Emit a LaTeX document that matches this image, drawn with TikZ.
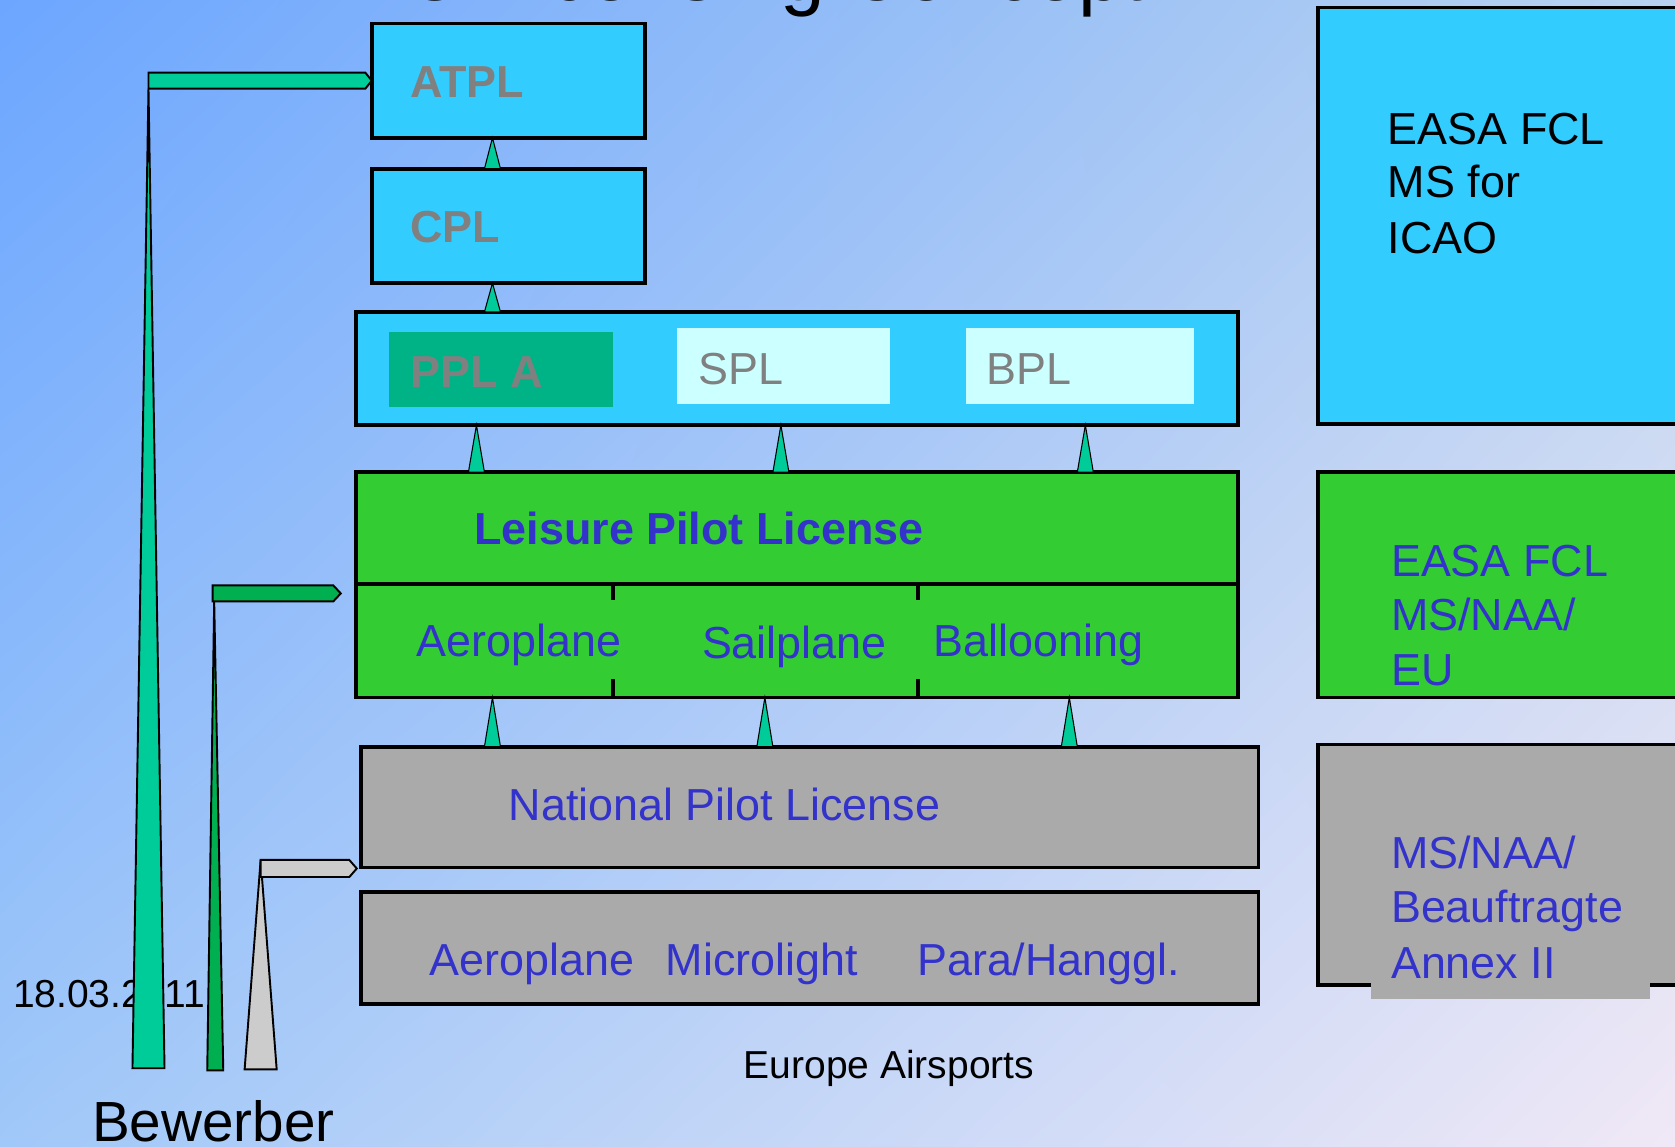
\documentclass[tikz,border=0pt]{standalone}
\usepackage{fontspec}
\setmainfont{Liberation Sans}
\usetikzlibrary{shadings}
\definecolor{cyanbox}{HTML}{33CCFF}
\definecolor{tealA}{HTML}{00CC99}
\definecolor{pplafill}{HTML}{00B386}
\definecolor{lightcy}{HTML}{CCFFFF}
\definecolor{greenbox}{HTML}{33CC33}
\definecolor{bluetxt}{HTML}{3333CC}
\definecolor{greytxt}{HTML}{808080}
\definecolor{graybox}{HTML}{AAAAAA}
\definecolor{barB}{HTML}{00B050}
\definecolor{barC}{HTML}{CCCCCC}
\definecolor{bgUL}{HTML}{6CA6FF}
\definecolor{bgUR}{HTML}{B8D2F0}
\definecolor{bgLL}{HTML}{A0C8F8}
\definecolor{bgLR}{HTML}{F0E8F6}
\newcommand\mkbox[6]{\node[boxs,#6,minimum width={#4-#2},minimum height={#5-#3}] (#1) at (#2,#3) {};}
\newcommand\mkrect[6]{\node[rects,#6,minimum width={#4-#2},minimum height={#5-#3}] (#1) at (#2,#3) {};}
\newcommand\uptri[4]{\draw[tri] ([xshift=#3-7.5]#1) -- ([xshift=#4]#2) -- ([xshift=#3+7.5]#1) -- cycle;}
\begin{document}
\begin{tikzpicture}[x=1pt,y=-1pt,
  boxs/.style={draw=black, line width=3.5pt, inner sep=0pt, outer sep=0pt, anchor=north west},
  rects/.style={inner sep=0pt, outer sep=0pt, anchor=north west},
  txt/.style={inner sep=0pt, anchor=base west, font=\fontsize{42}{50}\selectfont},
  bft/.style={inner sep=0pt, anchor=base west, font=\fontsize{42}{50}\selectfont\bfseries},
  tri/.style={fill=tealA, draw=black, line width=1pt, line join=miter},
  bar/.style={draw=black, line width=1.8pt, line join=miter},
  tick/.style={line width=3.5pt}
]
\useasboundingbox (0,0) rectangle (1568,1073);
\clip (0,0) rectangle (1568,1073);
\shade[upper left=bgUL, upper right=bgUR, lower left=bgLL, lower right=bgLR] (0,0) rectangle (1568,1073);

% title (mostly above the page)
\node[inner sep=0pt, anchor=base west, font=\fontsize{75}{80}\selectfont] (title) at (330,0.5) {EU Licensing Concept};

% date and footer
\node[inner sep=0pt, anchor=base west, font=\fontsize{36.5}{40}\selectfont] (date) at (12,943) {18.03.2011};
\node[inner sep=0pt, anchor=base west, font=\fontsize{36.5}{40}\selectfont] (foot) at (696,1010) {Europe Airsports};
\node[inner sep=0pt, anchor=base west, font=\fontsize{53}{60}\selectfont] (bew) at (86,1069) {Bewerber};

% boxes
\mkbox{atpl}{348}{22}{604}{129}{fill=cyanbox}
\mkbox{cpl}{348}{158}{604}{265}{fill=cyanbox}
\mkbox{pplrow}{333}{292}{1159}{398}{fill=cyanbox}
\mkrect{ppla}{364}{311}{574}{381}{fill=pplafill}
\mkrect{spl}{634}{307}{833}{378}{fill=lightcy}
\mkrect{bpl}{904}{307}{1118}{378}{fill=lightcy}
\mkbox{lpl}{333}{442}{1159}{653}{fill=greenbox}
\draw[tick] (333,547) -- (1159,547);
\draw[tick] (574,547) -- (574,562);
\draw[tick] (574,636) -- (574,653);
\draw[tick] (859,547) -- (859,562);
\draw[tick] (859,636) -- (859,653);
\mkbox{npl}{338}{699}{1178}{812}{fill=graybox}
\mkbox{nsub}{338}{835}{1178}{940}{fill=graybox}
\mkbox{r1}{1234}{7}{1620}{397}{fill=cyanbox}
\mkbox{r2}{1234}{442}{1620}{653}{fill=greenbox}
\mkbox{r3}{1234}{697}{1620}{922}{fill=graybox}
\mkrect{r3patch}{1283}{890}{1545}{935.5}{fill=graybox}

% small connector triangles
\uptri{cpl.north}{atpl.south}{-15}{-15}
\uptri{pplrow.north}{cpl.south}{-285}{-15}
\uptri{lpl.north}{pplrow.south}{-300}{-300}
\uptri{lpl.north}{pplrow.south}{-15}{-15}
\uptri{lpl.north}{pplrow.south}{270}{270}
\uptri{npl.north}{lpl.south}{-297}{-285}
\uptri{npl.north}{lpl.south}{-42}{-30}
\uptri{npl.north}{lpl.south}{243}{255}

% applicant bars
\draw[bar, fill=tealA] (139,83) -- (154,1000) -- (124,1000) -- cycle;
\draw[bar, fill=tealA] (139,68) -- ([xshift=-6,yshift=7.5]atpl.west) -- (atpl.west) -- ([xshift=-6,yshift=-7.5]atpl.west) -- (139,83) -- cycle;
\coordinate (b2tip) at (319,555.5);
\draw[bar, fill=barB] (200.5,563) -- (209,1002) -- (194,1002) -- cycle;
\draw[bar, fill=barB] (199,548) -- ([xshift=-7,yshift=7.5]b2tip) -- (b2tip) -- ([xshift=-7,yshift=-7.5]b2tip) -- (199,563) -- cycle;
\coordinate (b3tip) at (334,813);
\draw[bar, fill=barC] (244,805) -- (259,1001) -- (229,1001) -- cycle;
\draw[bar, fill=barC] (244,805) -- ([xshift=-7,yshift=8]b3tip) -- (b3tip) -- ([xshift=-7,yshift=-8]b3tip) -- (244,821) -- cycle;

% texts
\node[bft, text=greytxt] (tatpl) at (384,91) {ATPL};
\node[bft, text=greytxt] (tcpl) at (384,227) {CPL};
\node[bft, text=greytxt] (tppla) at (384,363) {PPL A};
\node[txt, text=greytxt] (tspl) at (654,360) {SPL};
\node[txt, text=greytxt] (tbpl) at (923,360) {BPL};
\node[bft, text=bluetxt] (tlpl) at (444,510) {Leisure Pilot License};
\node[txt, text=bluetxt] (tla) at (390,615) {Aeroplane};
\node[txt, text=bluetxt] (tls) at (657,616) {Sailplane};
\node[txt, text=bluetxt] (tlb) at (874,615) {Ballooning};
\node[txt, text=bluetxt] (tnpl) at (476,768) {National Pilot License};
\node[txt, text=bluetxt] (tna) at (402,913) {Aeroplane};
\node[txt, text=bluetxt] (tnm) at (623,913) {Microlight};
\node[txt, text=bluetxt] (tnp) at (859,913) {Para/Hanggl.};
\node[txt, text=black] (r1a) at (1299,135) {EASA FCL};
\node[txt, text=black] (r1b) at (1299,185) {MS for};
\node[txt, text=black] (r1c) at (1299,237) {ICAO};
\node[txt, text=bluetxt] (r2a) at (1302,540) {EASA FCL};
\node[txt, text=bluetxt] (r2b) at (1302,590) {MS/NAA/};
\node[txt, text=bluetxt] (r2c) at (1302,642) {EU};
\node[txt, text=bluetxt] (r3a) at (1302,813) {MS/NAA/};
\node[txt, text=bluetxt] (r3b) at (1302,864) {Beauftragte};
\node[txt, text=bluetxt] (r3c) at (1302,916) {Annex II};
\end{tikzpicture}
\end{document}
